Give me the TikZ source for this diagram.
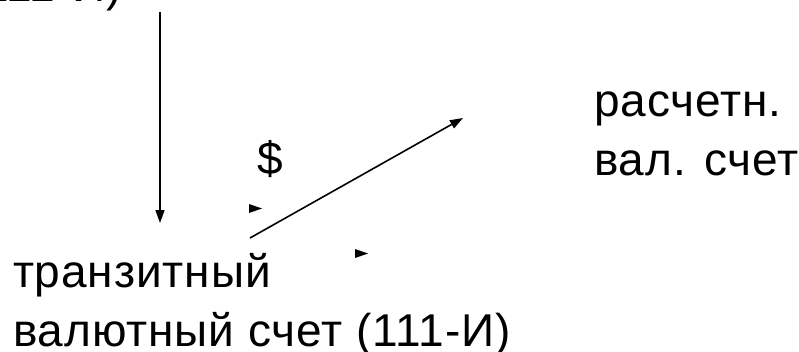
\documentclass[tikz,border=0pt]{standalone}
\usepackage{fontspec}
\setmainfont[LetterSpace=2]{Liberation Sans}
\usetikzlibrary{arrows.meta}
\tikzset{
  lbl/.style={inner sep=0pt, outer sep=0pt, anchor=base west, font=\fontsize{46}{59}\selectfont, align=left},
  arr/.style={line width=1.6pt, -{Triangle[length=13pt,width=9pt]}},
  tri/.style={fill=black}
}
\begin{document}
\begin{tikzpicture}[x=1pt,y=-1pt]
\useasboundingbox (0,0) rectangle (799,351);
\clip (0,0) rectangle (799,351);
\node[lbl, anchor=base east] (top) at (122,1) {(111-И)};
\node[lbl] (trans) at (13,346) {транзитный\\валютный счет (111-И)};
\node[lbl] (rasch) at (594,175) {расчетн.\\вал. счет};
\node[lbl, anchor=base] (usd) at (270,174) {\$};
\coordinate (v1) at (160,12);
\coordinate (v2) at (160,223);
\coordinate (d1) at (250,238);
\coordinate (d2) at (463,118);
\draw[arr] (v1) -- (v2);
\draw[arr] (d1) -- (d2);
\fill[tri] (249,204) -- (262,208.5) -- (249,213) -- cycle;
\fill[tri] (355,249) -- (368,253.5) -- (355,258) -- cycle;
\end{tikzpicture}
\end{document}
